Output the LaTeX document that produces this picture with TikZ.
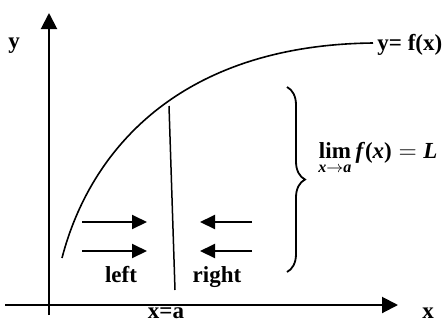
\documentclass[tikz,border=0pt]{standalone}
\usepackage{amsmath}
\usepackage{fontspec}
\setmainfont{Liberation Serif}
\usepackage{tikz}
\usetikzlibrary{arrows.meta, positioning, decorations.pathreplacing}
\newcommand{\bi}[1]{\textbf{\textit{#1}}}
\newcommand{\limexpr}{$\displaystyle\operatorname*{\mathbf{lim}}_{\bi{x}\rightarrow\bi{a}}\bi{f}\textbf{(}\bi{x}\textbf{)} = \bi{L}$}

\begin{document}
\begin{tikzpicture}[
    x=0.5pt, y=-0.5pt,
    axis/.style={-{Triangle[length=8pt, width=8pt]}, line width=1pt},
    flow/.style={-{Triangle[length=7.5pt, width=7pt]}, line width=1pt},
    lbl/.style={font=\fontsize{11.5}{14}\selectfont\bfseries, inner sep=0pt},
    limtext/.style={font=\fontsize{11.5}{14}\selectfont, inner sep=0pt},
]
    \useasboundingbox (0,0) rectangle (445,323);

    % Axes
    \coordinate (xstart) at (5,305);
    \coordinate (xend) at (398,305);
    \coordinate (ystart) at (49,315);
    \coordinate (yend) at (49,13);
    \draw[axis] (xstart) -- (xend);
    \draw[axis] (ystart) -- (yend);
    \node[lbl, anchor=base] (xlab) at (428,318) {x};
    \node[lbl, anchor=base] (ylab) at (14,48) {y};

    % Curve
    \coordinate (cstart) at (62,258);
    \coordinate (cend) at (373,43);
    \draw[line width=0.8pt] (cstart) .. controls (90,150) and (180,45) .. (cend);
    \node[lbl, anchor=base west] (flab) at (377,50) {y= f(x)};

    % Line x=a
    \coordinate (atop) at (169,106);
    \coordinate (abot) at (175,290);
    \draw[line width=0.75pt] (atop) -- (abot);
    \node[lbl, anchor=base] (alab) at (166,318) {x=a};

    % Approach arrows
    \coordinate (l1) at (82,222);
    \coordinate (l1e) at (147,222);
    \coordinate (l2) at (82,251);
    \coordinate (l2e) at (147,251);
    \coordinate (r1) at (252,222);
    \coordinate (r1e) at (200,222);
    \coordinate (r2) at (252,251);
    \coordinate (r2e) at (200,251);
    \draw[flow] (l1) -- (l1e);
    \draw[flow] (l2) -- (l2e);
    \draw[flow] (r1) -- (r1e);
    \draw[flow] (r2) -- (r2e);
    \node[lbl, anchor=base] (leftlab) at (121,282) {left};
    \node[lbl, anchor=base] (rightlab) at (217,282) {right};

    % Brace and limit
    \coordinate (btop) at (287,87);
    \coordinate (bbot) at (287,272);
    \draw[line width=0.9pt, decorate, decoration={brace, amplitude=9pt}] (btop) -- (bbot);
    \node[limtext, anchor=base west] (limlab) at (318,158) {\limexpr};
\end{tikzpicture}
\end{document}
